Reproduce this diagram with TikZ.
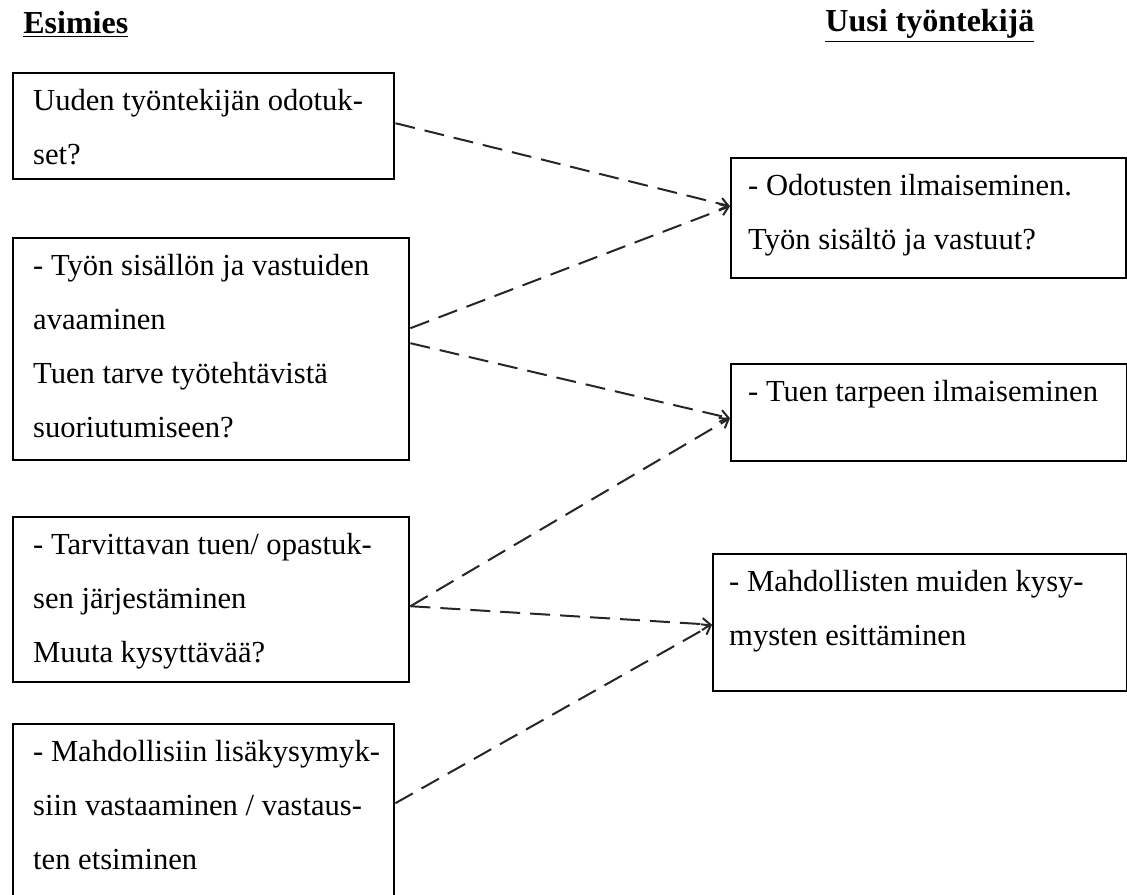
\documentclass[tikz,border=0pt]{standalone}
\usepackage{fontspec}
\setmainfont{Liberation Serif}
\usetikzlibrary{arrows.meta}
\newcommand{\cell}[4][10pt]{\parbox[t][#2][t]{#3}{\fontsize{15.3}{27}\selectfont\leftskip=#1\rule{0pt}{18.5pt}#4}}
\begin{document}
\begin{tikzpicture}[x=.5pt, y=-.5pt,
		box/.style={draw, line width=1.2pt, anchor=north west, inner sep=0pt},
		head/.style={anchor=base west, inner sep=0pt, font=\fontsize{16}{18}\selectfont\bfseries},
		link/.style={every edge/.style={draw=black!85, line width=1pt, dash pattern=on 10pt off 5pt, -{Straight Barb[length=4pt, width=6pt]}}}]
			\clip (0, 0) rectangle (1127, 894);
			\node[head] (esimies) at (23, 33) {\underline{Esimies}};
			\node[head] (uusi) at (825, 32) {\underline{Uusi työntekijä}};
			% esimies
			\node[box] (esim1) at (12, 72) {\cell{53pt}{190.5pt}{Uuden työntekijän odotuk-\\set?}};
			\node[box] (esim2) at (12, 237) {\cell{111pt}{198pt}{- Työn sisällön ja vastuiden\\avaaminen\\Tuen tarve työtehtävistä\\suoriutumiseen?}};
			\node[box] (esim3) at (12, 516) {\cell{82.5pt}{198pt}{- Tarvittavan tuen/ opastuk-\\sen järjestäminen\\Muuta kysyttävää?}};
			\node[box] (esim4) at (12, 723) {\cell{88.5pt}{190.5pt}{- Mahdollisiin lisäkysymyk-\\siin vastaaminen / vastaus-\\ten etsiminen}};
			% uusi työntekijä
			\node[box] (uusi1) at (730, 157) {\cell[8.5pt]{60pt}{197.5pt}{- Odotusten ilmaiseminen.\\Työn sisältö ja vastuut?}};
			\node[box] (uusi2) at (730, 363) {\cell[8.5pt]{48.5pt}{198pt}{- Tuen tarpeen ilmaiseminen}};
			\node[box] (uusi3) at (712, 553) {\cell[8pt]{68.5pt}{207pt}{- Mahdollisten muiden kysy-\\mysten esittäminen}};
			\path[link]
				([yshift=1.5pt]esim1.east) edge ([yshift=6pt]uusi1.west)
				([yshift=10.5pt]esim2.east) edge ([yshift=6pt]uusi1.west)
				([yshift=3pt]esim2.east) edge ([yshift=-2.75pt]uusi2.west)
				([yshift=-3.25pt]esim3.east) edge ([yshift=-2.75pt]uusi2.west)
				([yshift=-3.25pt]esim3.east) edge ([yshift=-1pt]uusi3.west)
				([yshift=4.75pt]esim4.east) edge ([yshift=-1pt]uusi3.west);
		\end{tikzpicture}
\end{document}
